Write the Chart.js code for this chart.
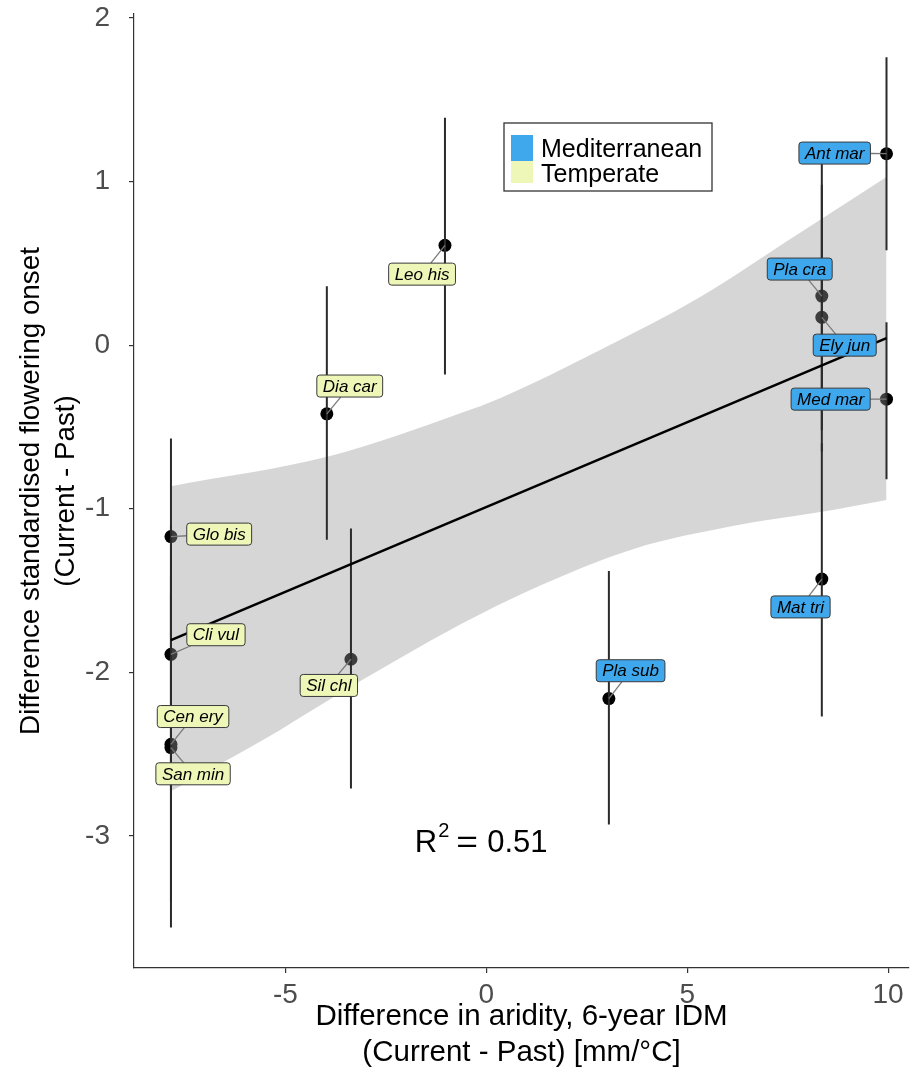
<!DOCTYPE html>
<html><head><meta charset="utf-8">
<script src="https://cdn.jsdelivr.net/npm/chart.js@4"></script>
<style>html,body{margin:0;padding:0;background:#fff}</style>
</head><body>
<canvas id="c" width="923" height="1073" style="display:block;width:923px;height:1073px"></canvas>
<script>
const FONT = "'Liberation Sans', Arial, sans-serif";
const BLUE = '#3fa7ec';
const YELLOW = '#eef6b8';

// ---- data ----
const species = ['Ant mar','Pla cra','Ely jun','Med mar','Mat tri','Pla sub','Leo his','Dia car','Sil chl','Glo bis','Cli vul','Cen ery','San min'];
const region = ['Mediterranean','Mediterranean','Mediterranean','Mediterranean','Mediterranean','Mediterranean','Temperate','Temperate','Temperate','Temperate','Temperate','Temperate','Temperate'];
const aridityDiff = [9.96, 8.35, 8.35, 9.96, 8.35, 3.05, -1.03, -3.97, -3.37, -7.85, -7.85, -7.85, -7.85];
const onsetDiff   = [1.17, 0.30, 0.17, -0.33, -1.43, -2.16, 0.61, -0.42, -1.92, -1.17, -1.89, -2.44, -2.46];
const onsetHi     = [1.76, 1.11, 0.98, 0.14, -0.60, -1.38, 1.39, 0.36, -1.12, -0.57, -1.10, -1.52, -1.40];
const onsetLo     = [0.58, -0.52, -0.65, -0.82, -2.27, -2.93, -0.18, -1.19, -2.71, -1.78, -2.70, -3.40, -3.56];
const labelX      = [8.67, 7.80, 8.92, 8.57, 7.82, 3.59, -1.60, -3.40, -3.92, -6.65, -6.73, -7.30, -7.30];
const labelY      = [1.174, 0.465, 0.0, -0.33, -1.60, -1.99, 0.434, -0.25, -2.08, -1.155, -1.77, -2.27, -2.62];
const fitX = [-7.85, 9.96];
const fitY = [-1.803, 0.043];
const bandUpperX = [-7.85, -3.89, -0.58, 0.34, 2.82, 5.31, 7.80, 9.96];
const bandUpperY = [-0.862, -0.678, -0.410, -0.324, -0.031, 0.293, 0.685, 1.027];
const bandLowerX = [-7.85, -5.56, -3.89, -2.23, -0.58, 1.08, 3.65, 6.13, 8.62, 9.96];
const bandLowerY = [-2.726, -2.414, -2.164, -1.925, -1.699, -1.498, -1.247, -1.106, -1.008, -0.947];
const xTicks = [-5, 0, 5, 10];
const yTicks = [-3, -2, -1, 0, 1, 2];
const legendLabels = ['Mediterranean', 'Temperate'];
const rSquared = '0.51';
const xTitle = ['Difference in aridity, 6-year IDM', '(Current - Past) [mm/°C]'];
const yTitle = ['Difference standardised flowering onset', '(Current - Past)'];

// ---- datasets ----
const datasets = [];
datasets.push({
  label: 'points', type: 'scatter', order: 4,
  data: aridityDiff.map((v, i) => ({x: v, y: onsetDiff[i]})),
  pointRadius: 6.5, pointBackgroundColor: '#000', pointBorderWidth: 0, pointHoverRadius: 6.5
});
datasets.push({
  label: 'bandUpper', type: 'scatter', order: 3, showLine: true, fill: '+1',
  data: bandUpperX.map((v, i) => ({x: v, y: bandUpperY[i]})),
  backgroundColor: 'rgba(153,153,153,0.4)', borderWidth: 0, borderColor: 'rgba(0,0,0,0)',
  pointRadius: 0, cubicInterpolationMode: 'monotone'
});
datasets.push({
  label: 'bandLower', type: 'scatter', order: 3, showLine: true, fill: false,
  data: bandLowerX.map((v, i) => ({x: v, y: bandLowerY[i]})),
  borderWidth: 0, borderColor: 'rgba(0,0,0,0)',
  pointRadius: 0, cubicInterpolationMode: 'monotone'
});
aridityDiff.forEach((v, i) => {
  datasets.push({
    label: 'err' + i, type: 'scatter', order: 2, showLine: true,
    data: [{x: v, y: onsetHi[i]}, {x: v, y: onsetLo[i]}],
    borderColor: '#2b2b2b', borderWidth: 2, pointRadius: 0, fill: false
  });
});
datasets.push({
  label: 'fit', type: 'scatter', order: 1, showLine: true,
  data: fitX.map((v, i) => ({x: v, y: fitY[i]})),
  borderColor: '#000', borderWidth: 2.6, pointRadius: 0, fill: false
});

// ---- plugins ----
const labelPlugin = {
  id: 'repelLabels',
  afterDatasetsDraw(chart) {
    const {ctx, scales: {x, y}} = chart;
    ctx.save();
    ctx.font = `italic 17px ${FONT}`;
    species.forEach((s, i) => {
      const px = x.getPixelForValue(aridityDiff[i]), py = y.getPixelForValue(onsetDiff[i]);
      const cx = x.getPixelForValue(labelX[i]), cy = y.getPixelForValue(labelY[i]);
      const w = ctx.measureText(s).width + 12, h = 22;
      const bx = cx - w / 2, by = cy - h / 2;
      const dx = px - cx, dy = py - cy;
      const t = Math.min(dx !== 0 ? (w / 2) / Math.abs(dx) : Infinity, dy !== 0 ? (h / 2) / Math.abs(dy) : Infinity);
      if (t < 1) {
        ctx.strokeStyle = '#7a7a7a'; ctx.lineWidth = 1.3;
        ctx.beginPath(); ctx.moveTo(px, py); ctx.lineTo(cx + dx * t, cy + dy * t); ctx.stroke();
      }
      ctx.beginPath(); ctx.roundRect(bx, by, w, h, 3);
      ctx.fillStyle = region[i] === 'Mediterranean' ? BLUE : YELLOW; ctx.fill();
      ctx.strokeStyle = '#3a3a3a'; ctx.lineWidth = 1; ctx.stroke();
      ctx.fillStyle = '#000'; ctx.textAlign = 'center'; ctx.textBaseline = 'middle';
      ctx.fillText(s, cx, cy + 1);
    });
    ctx.restore();
  },
  afterDraw(chart) {
    const {ctx, scales: {x, y}} = chart;
    ctx.save();
    // legend
    const lx = 504, ly = 123, lw = 208, lh = 68;
    ctx.fillStyle = '#fff'; ctx.fillRect(lx, ly, lw, lh);
    ctx.strokeStyle = '#333'; ctx.lineWidth = 1.3; ctx.strokeRect(lx, ly, lw, lh);
    ctx.fillStyle = BLUE; ctx.fillRect(511, 135, 22, 26);
    ctx.fillStyle = YELLOW; ctx.fillRect(511, 161, 22, 22);
    ctx.fillStyle = '#000'; ctx.font = `25px ${FONT}`; ctx.textAlign = 'left'; ctx.textBaseline = 'alphabetic';
    ctx.fillText(legendLabels[0], 541, 157);
    ctx.fillText(legendLabels[1], 541, 182);
    // R^2 annotation
    const ax = x.getPixelForValue(-1.78), ay = y.getPixelForValue(-3.10);
    ctx.font = `31px ${FONT}`;
    ctx.fillText('R', ax, ay);
    const rw = ctx.measureText('R').width;
    ctx.font = `20px ${FONT}`;
    ctx.fillText('2', ax + rw + 1, ay - 15);
    ctx.font = `31px ${FONT}`;
    ctx.save();
    ctx.translate(ax + rw + 19, ay);
    ctx.scale(1.2, 1);
    ctx.fillText('=', 0, 0);
    ctx.restore();
    ctx.fillText(rSquared, ax + rw + 50, ay);
    ctx.restore();
  }
};

new Chart(document.getElementById('c'), {
  type: 'scatter',
  data: {datasets},
  options: {
    responsive: false, animation: false, devicePixelRatio: 1,
    layout: {padding: {top: 14, right: 14, left: 0, bottom: 0}},
    plugins: {legend: {display: false}, tooltip: {enabled: false}},
    scales: {
      x: {
        type: 'linear', min: -8.77, max: 10.52,
        afterBuildTicks: s => { s.ticks = xTicks.map(v => ({value: v})); },
        afterFit: s => { s.height = 105; s.paddingLeft = 0; s.paddingRight = 0; },
        grid: {display: true, drawOnChartArea: false, drawTicks: true, tickLength: 5, color: '#333', lineWidth: 1.2},
        border: {display: true, color: '#333', width: 1.2},
        ticks: {color: '#4d4d4d', font: {family: FONT, size: 28}, padding: 5, maxRotation: 0, autoSkip: false},
        title: {display: true, text: xTitle, color: '#000', font: {family: FONT, size: 29.5, lineHeight: 1.22}, padding: {top: 0, bottom: 2}}
      },
      y: {
        type: 'linear', min: -3.807, max: 2.024,
        afterBuildTicks: s => { s.ticks = yTicks.map(v => ({value: v})); },
        afterFit: s => { s.width = 134; s.paddingTop = 0; s.paddingBottom = 0; },
        grid: {display: true, drawOnChartArea: false, drawTicks: true, tickLength: 5, color: '#333', lineWidth: 1.2},
        border: {display: true, color: '#333', width: 1.2},
        ticks: {color: '#4d4d4d', font: {family: FONT, size: 28}, padding: 19, autoSkip: false},
        title: {display: true, text: yTitle, color: '#000', font: {family: FONT, size: 27.8, lineHeight: 1.25}, padding: {top: 14, bottom: 0}}
      }
    }
  },
  plugins: [labelPlugin]
});
</script>
</body></html>
